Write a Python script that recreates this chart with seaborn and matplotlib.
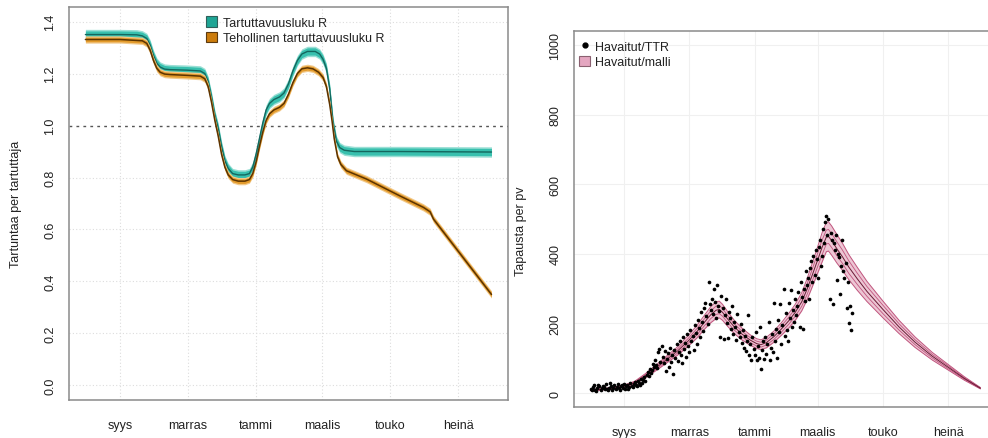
import numpy as np
import pandas as pd
import matplotlib
matplotlib.use("Agg")
import matplotlib.pyplot as plt
import seaborn as sns
from matplotlib.patches import Patch
from matplotlib.lines import Line2D

# ---------------- data ----------------
# x values are days counted from 1 September (syys)
month_ticks = [0, 61, 122, 181, 242, 303]
month_labels = ["syys", "marras", "tammi", "maalis", "touko", "heinä"]

# Left panel: basic reproduction number R (teal)
r_days = [-31, 0, 15, 20, 24, 27, 30, 33, 36, 40, 45, 60, 72, 76, 79, 82, 85, 88,
          91, 94, 97, 101, 106, 112, 116, 119, 122, 125, 128, 131, 134, 138, 143,
          147, 151, 155, 159, 163, 168, 175, 179, 182, 185, 188, 191, 194, 197,
          201, 210, 250, 333]
r_basic = [1.350, 1.350, 1.349, 1.345, 1.335, 1.31, 1.27, 1.24, 1.225, 1.217, 1.215,
           1.213, 1.210, 1.200, 1.17, 1.11, 1.04, 0.99, 0.92, 0.865, 0.835, 0.815,
           0.810, 0.810, 0.815, 0.84, 0.89, 0.95, 1.01, 1.06, 1.085, 1.10, 1.11,
           1.125, 1.16, 1.21, 1.25, 1.275, 1.285, 1.285, 1.275, 1.255, 1.22, 1.14,
           1.01, 0.94, 0.915, 0.905, 0.900, 0.900, 0.898]
r_basic_band = 0.014
r_basic_halo = 0.020

# Left panel: effective reproduction number (orange)
reff_days = [-31, 0, 20, 24, 27, 30, 33, 36, 40, 45, 60, 72, 76, 79, 82, 85, 88, 91,
             94, 97, 101, 106, 112, 116, 119, 122, 125, 128, 131, 134, 138, 143, 147,
             151, 155, 159, 163, 168, 173, 178, 182, 185, 188, 190, 192, 195, 198,
             203, 221, 251, 272, 278, 281, 333]
r_eff = [1.331, 1.331, 1.326, 1.316, 1.29, 1.25, 1.22, 1.205, 1.198, 1.196, 1.193,
         1.190, 1.18, 1.15, 1.09, 1.02, 0.96, 0.89, 0.84, 0.81, 0.792, 0.786, 0.786,
         0.792, 0.815, 0.86, 0.92, 0.975, 1.02, 1.045, 1.06, 1.07, 1.085, 1.12, 1.165,
         1.20, 1.218, 1.222, 1.218, 1.205, 1.185, 1.15, 1.08, 1.02, 0.95, 0.88, 0.85,
         0.826, 0.794, 0.729, 0.685, 0.668, 0.64, 0.35]
r_eff_band = 0.009
r_eff_halo = 0.014

# Right panel: model of daily cases
model_days = [-31, -20, -10, 0, 10, 20, 30, 40, 50, 60, 68, 75, 81, 86, 89, 92, 97,
              103, 110, 118, 124, 128, 133, 140, 147, 154, 160, 166, 171, 176, 181,
              185, 189, 191, 194, 199, 204, 210, 218, 227, 242, 257, 272, 288, 303,
              318, 333]
model_mid = [8, 11, 14, 20, 30, 50, 73, 97, 121, 150, 176, 203, 225, 238, 240, 232,
             212, 190, 170, 152, 142, 139, 145, 162, 184, 208, 232, 262, 298, 340,
             383, 418, 448, 450, 438, 414, 392, 362, 328, 292, 240, 190, 146, 106,
             74, 42, 14]
model_hi = [10, 13, 17, 23, 34, 56, 81, 107, 133, 165, 194, 223, 248, 262, 264, 255,
            233, 209, 187, 167, 156, 153, 160, 178, 202, 229, 255, 288, 328, 374,
            421, 460, 490, 492, 480, 455, 431, 398, 361, 321, 264, 209, 161, 117,
            82, 47, 16]
model_lo = [6, 9, 12, 17, 26, 44, 65, 87, 109, 135, 158, 183, 202, 214, 216, 209,
            191, 171, 153, 137, 128, 125, 130, 146, 166, 187, 209, 236, 268, 306,
            345, 376, 406, 408, 396, 373, 353, 326, 295, 263, 216, 171, 131, 95,
            66, 37, 12]
model_hi_in = [9, 12, 15, 21, 32, 53, 77, 102, 127, 157, 185, 213, 236, 250, 252, 243,
               222, 199, 178, 159, 149, 146, 152, 170, 193, 218, 243, 275, 313, 357,
               402, 439, 468, 470, 458, 434, 411, 380, 344, 306, 252, 199, 153, 111,
               78, 44, 15]
model_lo_in = [7, 10, 13, 19, 28, 47, 69, 92, 115, 143, 167, 193, 214, 226, 228, 221,
               202, 181, 162, 145, 135, 132, 138, 154, 175, 198, 221, 249, 283, 323,
               364, 397, 428, 430, 418, 394, 373, 344, 312, 278, 228, 181, 139, 101,
               70, 40, 13]

# Right panel: observed daily cases (from day -31 = 1 Aug, one per day)
obs_start_day = -31
obs_cases = [
    12, 8, 18, 22, 10, 7, 15, 24, 19, 9,
    14, 21, 17, 11, 26, 13, 8, 16, 28, 20,
    10, 15, 23, 12, 18, 25, 14, 9, 19, 22,
    16, 27, 13, 20, 24, 11, 18, 30, 21, 17,
    26, 33, 22, 19, 35, 28, 24, 41, 30, 38,
    45, 36, 52, 61, 48, 70, 58, 66, 84, 75,
    95, 80, 72, 118, 128, 90, 134, 105, 85, 122,
    62, 98, 115, 76, 130, 88, 108, 55, 124, 100,
    140, 92, 118, 150, 110, 86, 160, 128, 145, 105,
    170, 135, 118, 182, 150, 165, 125, 195, 172, 140,
    210, 188, 160, 232, 205, 178, 245, 260, 220, 198,
    320, 255, 240, 270, 228, 300, 262, 215, 310, 250,
    235, 160, 280, 245, 155, 225, 270, 200, 158, 232,
    215, 185, 250, 170, 205, 190, 152, 228, 175, 160,
    198, 145, 182, 130, 165, 120, 150, 225, 108, 140,
    95, 160, 128, 110, 175, 95, 135, 100, 190, 68,
    125, 150, 98, 160, 112, 140, 205, 96, 130, 170,
    118, 260, 150, 185, 100, 210, 175, 255, 140, 195,
    298, 165, 230, 180, 150, 260, 215, 295, 190, 240,
    205, 270, 225, 250, 290, 190, 320, 275, 185, 300,
    265, 350, 310, 330, 270, 360, 380, 320, 395, 340,
    410, 385, 330, 420, 440, 365, 395, 470, 430, 490,
    510, 455, 500, 270, 460, 440, 255, 430, 410, 455,
    325, 400, 390, 285, 365, 440, 350, 330, 375, 245,
    320, 200, 250, 180, 230,
]

# ---------------- style ----------------
sns.set_style("white")
plt.rcParams["font.family"] = ["Liberation Sans", "DejaVu Sans"]
plt.rcParams["font.size"] = 9

TEAL_HALO = "#9ADFD5"
TEAL_BAND = "#38C0AE"
TEAL_LINE = "#14675E"
ORANGE_HALO = "#F2C98A"
ORANGE_BAND = "#E39B2C"
ORANGE_LINE = "#5C3300"
PINK_FILL = "#EDC6D4"
PINK_EDGE = "#C0557E"
PINK_MID = "#6A1A35"
SPINE = "#8A8A8A"
TXT = "#222222"

fig = plt.figure(figsize=(9.88, 4.39), dpi=100)
ax1 = fig.add_axes([69 / 988, 38 / 439, 439 / 988, 393 / 439])
ax2 = fig.add_axes([574 / 988, 31 / 439, 422 / 988, 376 / 439])

# ---------------- left panel ----------------
df_r = pd.DataFrame({"day": r_days, "R": r_basic})
df_e = pd.DataFrame({"day": reff_days, "R": r_eff})

for yv in [0, 0.2, 0.4, 0.6, 0.8, 1.2, 1.4]:
    ax1.axhline(yv, color="#DDDDDD", lw=0.8, ls=(0, (1, 2)), zorder=0)
for xv in month_ticks:
    ax1.axvline(xv, color="#DDDDDD", lw=0.8, ls=(0, (1, 2)), zorder=0)
ax1.axhline(1.0, color="#555555", lw=1.0, ls=(0, (2, 3)), zorder=1)

ax1.fill_between(df_r["day"], df_r["R"] - r_basic_halo, df_r["R"] + r_basic_halo,
                 color=TEAL_HALO, lw=0, zorder=2)
ax1.fill_between(df_r["day"], df_r["R"] - r_basic_band, df_r["R"] + r_basic_band,
                 color=TEAL_BAND, lw=0, zorder=2)
sns.lineplot(data=df_r, x="day", y="R", ax=ax1, color=TEAL_LINE, lw=1.0,
             sort=False, zorder=3)
ax1.fill_between(df_e["day"], df_e["R"] - r_eff_halo, df_e["R"] + r_eff_halo,
                 color=ORANGE_HALO, lw=0, zorder=4)
ax1.fill_between(df_e["day"], df_e["R"] - r_eff_band, df_e["R"] + r_eff_band,
                 color=ORANGE_BAND, lw=0, zorder=4)
sns.lineplot(data=df_e, x="day", y="R", ax=ax1, color=ORANGE_LINE, lw=1.1,
             sort=False, zorder=5)

ax1.set_xlim(-45.7, 347.8)
ax1.set_ylim(-0.056, 1.456)
ax1.set_xticks(month_ticks)
ax1.set_xticklabels(month_labels)
ax1.set_yticks([0, 0.2, 0.4, 0.6, 0.8, 1.0, 1.2, 1.4])
ax1.set_yticklabels(["0.0", "0.2", "0.4", "0.6", "0.8", "1.0", "1.2", "1.4"])
ax1.set_xlabel("")
ax1.set_ylabel("Tartuntaa per tartuttaja", color=TXT, fontsize=9)
ax1.yaxis.set_label_coords(-0.106, 0.5)

leg1 = ax1.legend(
    handles=[Patch(facecolor="#1FA595", edgecolor="#2F5F5A", lw=0.8),
             Patch(facecolor="#CC7C0C", edgecolor="#5C3A10", lw=0.8)],
    labels=["Tartuttavuusluku R", "Tehollinen tartuttavuusluku R"],
    loc="upper left", bbox_to_anchor=(0.29, 1.0), frameon=False,
    handlelength=0.9, handleheight=0.9, handletextpad=0.45, labelspacing=0.22,
    fontsize=9, borderaxespad=0.35)
for t in leg1.get_texts():
    t.set_color(TXT)

# ---------------- right panel ----------------
obs_days = np.arange(obs_start_day, obs_start_day + len(obs_cases))
df_obs = pd.DataFrame({"day": obs_days, "cases": obs_cases})
df_mod = pd.DataFrame({"day": model_days, "mid": model_mid, "hi": model_hi,
                       "lo": model_lo, "hi_in": model_hi_in, "lo_in": model_lo_in})

for yv in [0, 200, 400, 600, 800, 1000]:
    ax2.axhline(yv, color="#F0F0F0", lw=0.8, zorder=0)
for xv in month_ticks:
    ax2.axvline(xv, color="#F0F0F0", lw=0.8, zorder=0)

ax2.fill_between(df_mod["day"], df_mod["lo"], df_mod["hi"], color=PINK_FILL,
                 lw=0, zorder=1)
for col, c, w in [("hi", PINK_EDGE, 0.7), ("lo", PINK_EDGE, 0.7),
                  ("hi_in", PINK_EDGE, 0.6), ("lo_in", PINK_EDGE, 0.6),
                  ("mid", PINK_MID, 0.7)]:
    sns.lineplot(data=df_mod, x="day", y=col, ax=ax2, color=c, lw=w, sort=False,
                 zorder=2)

sns.scatterplot(data=df_obs, x="day", y="cases", ax=ax2, color="black", s=7,
                linewidth=0, zorder=3)

ax2.set_xlim(-46.8, 347.6)
ax2.set_ylim(-40, 1040)
ax2.set_xticks(month_ticks)
ax2.set_xticklabels(month_labels)
ax2.set_yticks([0, 200, 400, 600, 800, 1000])
ax2.set_yticklabels(["0", "200", "400", "600", "800", "1000"])
ax2.set_xlabel("")
ax2.set_ylabel("Tapausta per pv", color=TXT, fontsize=9)
ax2.yaxis.set_label_coords(-0.112, 0.47)

leg2 = ax2.legend(
    handles=[Line2D([], [], marker="o", color="none", markerfacecolor="black",
                    markeredgecolor="black", markersize=3.5),
             Patch(facecolor="#E4A6C0", edgecolor="#8A6070", lw=0.8)],
    labels=["Havaitut/TTR", "Havaitut/malli"],
    loc="upper left", bbox_to_anchor=(-0.01, 1.0), frameon=False,
    handlelength=0.9, handleheight=0.9, handletextpad=0.4, labelspacing=0.22,
    fontsize=9, borderaxespad=0.35)
for t in leg2.get_texts():
    t.set_color(TXT)

for ax in (ax1, ax2):
    for sp in ax.spines.values():
        sp.set_color(SPINE)
        sp.set_linewidth(1.1)
    ax.tick_params(axis="both", which="major", length=5, width=1.0, color=SPINE,
                   labelcolor=TXT, labelsize=9, direction="out")
    ax.tick_params(axis="x", pad=9)
    ax.tick_params(axis="y", pad=4)
    for lab in ax.get_yticklabels():
        lab.set_rotation(90)
        lab.set_va("center")

fig.savefig("out.png", dpi=100)
